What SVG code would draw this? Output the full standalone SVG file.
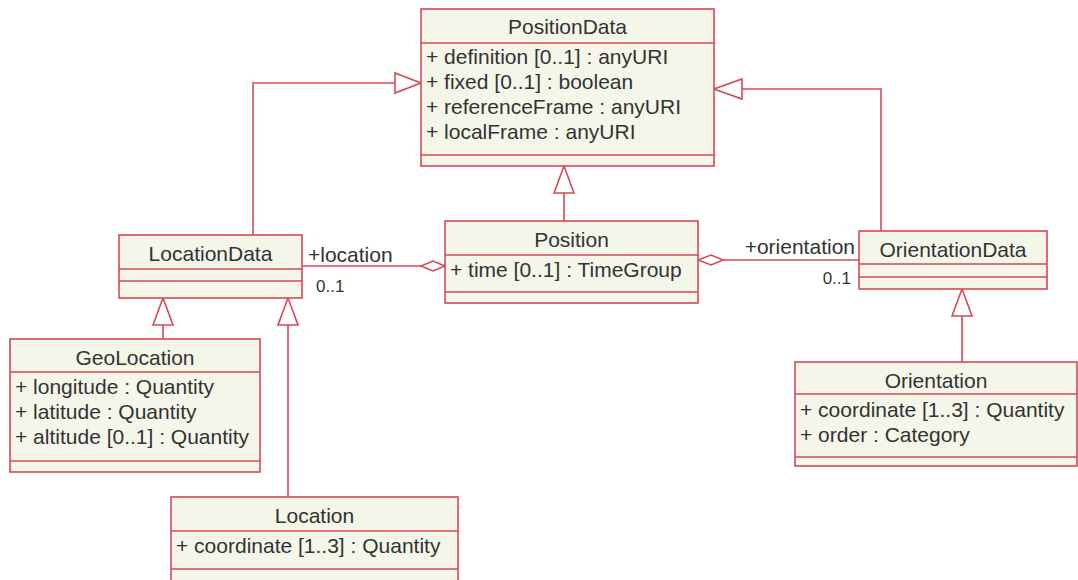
<svg xmlns="http://www.w3.org/2000/svg" width="1078" height="580" viewBox="0 0 1078 580">
  <style>
    .box { fill: #f4f6ea; stroke: #d34a55; stroke-width: 1.6; }
    .sep { stroke: #d34a55; stroke-width: 1.6; }
    .edge { fill: none; stroke: #d34a55; stroke-width: 1.6; }
    .head { fill: #ffffff; stroke: #d34a55; stroke-width: 1.6; }
    text { font-family: "Liberation Sans", Arial, sans-serif; font-size: 21px; fill: #333333; }
    .name { text-anchor: middle; }
  </style>
  <rect width="1078" height="580" fill="#ffffff"/>

  <!-- connectors -->
  <g id="connectors">
    <!-- LocationData -> PositionData -->
    <polyline class="edge" points="253,235 253,83 395,83"/>
    <polygon class="head" points="421,83 395,73 395,93"/>
    <!-- OrientationData -> PositionData -->
    <polyline class="edge" points="881,231 881,89 742,89"/>
    <polygon class="head" points="714,89 742,79 742,99"/>
    <!-- Position -> PositionData -->
    <line class="edge" x1="564" y1="221" x2="564" y2="193"/>
    <polygon class="head" points="564,166 554,193 574,193"/>
    <!-- GeoLocation -> LocationData -->
    <line class="edge" x1="163" y1="339" x2="163" y2="325"/>
    <polygon class="head" points="163,298 153,325 173,325"/>
    <!-- Location -> LocationData -->
    <line class="edge" x1="288" y1="497" x2="288" y2="325"/>
    <polygon class="head" points="288,298 278,325 298,325"/>
    <!-- Orientation -> OrientationData -->
    <line class="edge" x1="962" y1="362" x2="962" y2="316"/>
    <polygon class="head" points="962,289 952,316 972,316"/>
    <!-- Position aggregates LocationData -->
    <line class="edge" x1="302" y1="266" x2="421" y2="266"/>
    <polygon class="head" points="445,266 433,261 421,266 433,271"/>
    <text x="308" y="262">+location</text>
    <text x="316" y="292" style="font-size:17px">0..1</text>
    <!-- Position aggregates OrientationData -->
    <line class="edge" x1="723" y1="260" x2="859" y2="260"/>
    <polygon class="head" points="698,260 711,255 723,260 711,265"/>
    <text x="855" y="254" style="text-anchor:end">+orientation</text>
    <text x="851" y="284" style="font-size:17px;text-anchor:end">0..1</text>
  </g>

  <g id="PositionData">
    <rect class="box" x="421" y="9" width="293" height="157"/>
    <line class="sep" x1="421" y1="43" x2="714" y2="43"/>
    <line class="sep" x1="421" y1="155" x2="714" y2="155"/>
    <text class="name" x="567.5" y="34">PositionData</text>
    <text x="426" y="64">+ definition [0..1] : anyURI</text>
    <text x="426" y="89">+ fixed [0..1] : boolean</text>
    <text x="426" y="114">+ referenceFrame : anyURI</text>
    <text x="426" y="139">+ localFrame : anyURI</text>
  </g>

  <g id="LocationData">
    <rect class="box" x="119" y="235" width="183" height="63"/>
    <line class="sep" x1="119" y1="269" x2="302" y2="269"/>
    <line class="sep" x1="119" y1="281" x2="302" y2="281"/>
    <text class="name" x="210.5" y="261">LocationData</text>
  </g>

  <g id="Position">
    <rect class="box" x="445" y="221" width="253" height="82"/>
    <line class="sep" x1="445" y1="255" x2="698" y2="255"/>
    <line class="sep" x1="445" y1="292" x2="698" y2="292"/>
    <text class="name" x="571.5" y="247">Position</text>
    <text x="450" y="277">+ time [0..1] : TimeGroup</text>
  </g>

  <g id="OrientationData">
    <rect class="box" x="859" y="231" width="188" height="58"/>
    <line class="sep" x1="859" y1="264" x2="1047" y2="264"/>
    <line class="sep" x1="859" y1="277" x2="1047" y2="277"/>
    <text class="name" x="953" y="257">OrientationData</text>
  </g>

  <g id="GeoLocation">
    <rect class="box" x="10" y="339" width="250" height="133"/>
    <line class="sep" x1="10" y1="372" x2="260" y2="372"/>
    <line class="sep" x1="10" y1="461" x2="260" y2="461"/>
    <text class="name" x="135" y="365">GeoLocation</text>
    <text x="15" y="394">+ longitude : Quantity</text>
    <text x="15" y="419">+ latitude : Quantity</text>
    <text x="15" y="444">+ altitude [0..1] : Quantity</text>
  </g>

  <g id="Location">
    <rect class="box" x="171" y="497" width="287" height="90"/>
    <line class="sep" x1="171" y1="531" x2="458" y2="531"/>
    <line class="sep" x1="171" y1="569" x2="458" y2="569"/>
    <text class="name" x="314.5" y="523">Location</text>
    <text x="176" y="553">+ coordinate [1..3] : Quantity</text>
  </g>

  <g id="Orientation">
    <rect class="box" x="795" y="362" width="282" height="104"/>
    <line class="sep" x1="795" y1="394" x2="1077" y2="394"/>
    <line class="sep" x1="795" y1="457" x2="1077" y2="457"/>
    <text class="name" x="936" y="388">Orientation</text>
    <text x="800" y="417">+ coordinate [1..3] : Quantity</text>
    <text x="800" y="442">+ order : Category</text>
  </g>
</svg>
